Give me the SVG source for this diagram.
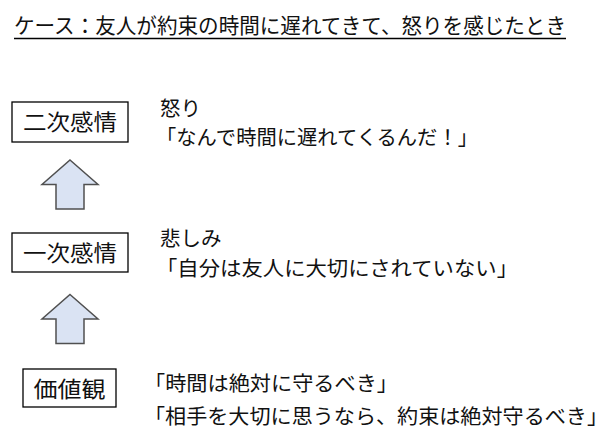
<svg xmlns="http://www.w3.org/2000/svg" width="609" height="441" viewBox="0 0 609 441">
<style>
text{font-family:"Meiryo","Noto Sans CJK JP","Noto Sans",sans-serif;fill:#111;}
.t{font-size:21px;}
.b{font-size:20.5px;}
.n{font-size:22px;}
.box{fill:#fff;stroke:#000;stroke-width:1.3;}
.arr{fill:#DAE3F3;stroke:#505050;stroke-width:1.5;stroke-linejoin:miter;}
</style>
<rect width="609" height="441" fill="#fff"/>
<g id="title">
<text class="t" x="14" y="33" textLength="552" lengthAdjust="spacingAndGlyphs">ケース：友人が約束の時間に遅れてきて、怒りを感じたとき</text>
<line x1="14" y1="38.5" x2="566" y2="38.5" stroke="#000" stroke-width="1.5"/>
</g>
<g id="secondary">
<rect class="box" x="12" y="102" width="116" height="40"/>
<text class="n" x="70" y="130" text-anchor="middle" textLength="94" lengthAdjust="spacingAndGlyphs">二次感情</text>
</g>
<g id="secondary-text">
<text class="b" x="160" y="116">怒り</text>
<text class="b" x="156" y="145" textLength="322" lengthAdjust="spacingAndGlyphs">「なんで時間に遅れてくるんだ！」</text>
</g>
<g id="primary">
<rect class="box" x="12" y="233" width="116" height="39"/>
<text class="n" x="70" y="261" text-anchor="middle" textLength="94" lengthAdjust="spacingAndGlyphs">一次感情</text>
</g>
<g id="primary-text">
<text class="b" x="160" y="246">悲しみ</text>
<text class="b" x="156" y="276" textLength="362" lengthAdjust="spacingAndGlyphs">「自分は友人に大切にされていない」</text>
</g>
<g id="values">
<rect class="box" x="23" y="369" width="93" height="38"/>
<text class="n" x="69.5" y="397" text-anchor="middle" textLength="72" lengthAdjust="spacingAndGlyphs">価値観</text>
</g>
<g id="values-text">
<text class="b" x="144" y="391" textLength="254" lengthAdjust="spacingAndGlyphs">「時間は絶対に守るべき」</text>
<text class="b" x="144" y="424" textLength="464" lengthAdjust="spacingAndGlyphs">「相手を大切に思うなら、約束は絶対守るべき」</text>
</g>
<g id="connectors">
<polygon class="arr" points="70,160 98,184.5 84,184.5 84,209 56,209 56,184.5 42,184.5"/>
<polygon class="arr" points="70,294.5 98,319 84,319 84,343.5 56,343.5 56,319 42,319"/>
</g>
</svg>
